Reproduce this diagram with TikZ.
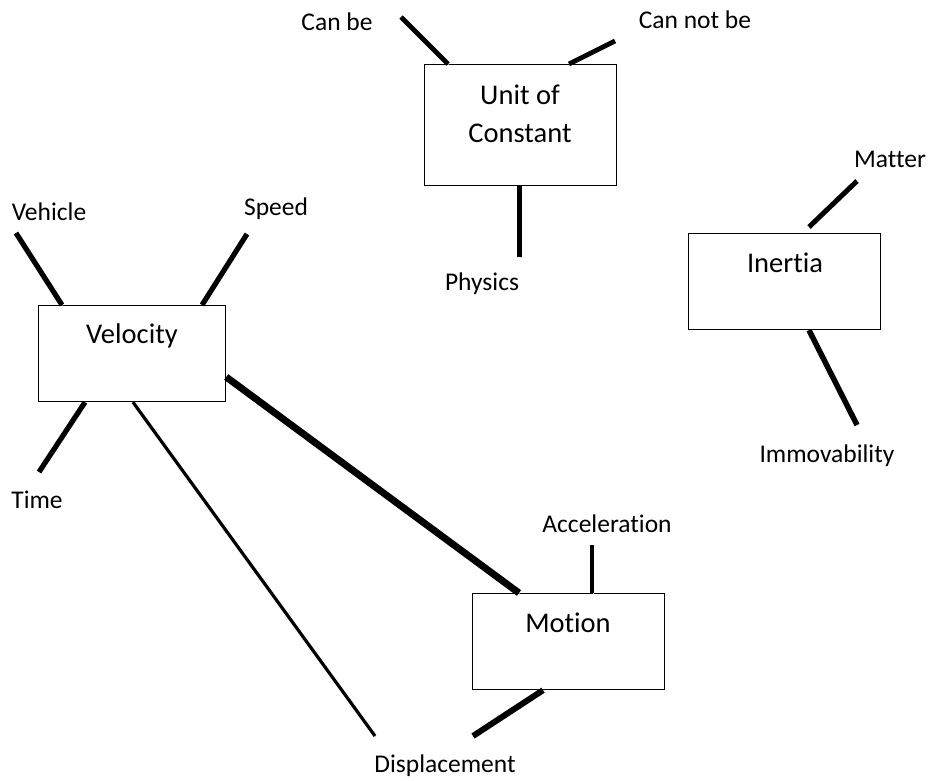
\documentclass[tikz,border=0pt]{standalone}
\usepackage{fontspec}
\setmainfont{Carlito}[Ligatures=NoCommon]
\usetikzlibrary{calc}
\tikzset{
  box/.style={draw, line width=1.2pt, inner sep=0pt, anchor=north west},
  boxtext/.style={inner sep=0pt, anchor=base, font=\fontsize{28.5}{38}\selectfont},
  lbl/.style={inner sep=0pt, anchor=base, font=\fontsize{25.5}{30}\selectfont},
  shade/.style={preaction={draw=black!22, transform canvas={shift={(1.3pt,-1.3pt)}}}},
  link/.style={line width=#1, shade},
}
\begin{document}
\begin{tikzpicture}[x=1pt,y=-1pt]
\useasboundingbox[fill=white] (0,0) rectangle (934,780);
% boxes
\node[box, minimum width=192pt, minimum height=121pt] (unit) at (424,64) {};
\node[box, minimum width=187pt, minimum height=96pt] (vel) at (38,305) {};
\node[box, minimum width=192pt, minimum height=96pt] (mot) at (472,593) {};
\node[box, minimum width=192pt, minimum height=96pt] (ine) at (688,233) {};
% box texts
\node[boxtext] (unitA) at (520,104) {Unit of};
\node[boxtext] (unitB) at (520,142) {Constant};
\node[boxtext] (velT) at (132,343) {Velocity};
\node[boxtext] (motT) at (568,632) {Motion};
\node[boxtext] (ineT) at (785,272) {Inertia};
% labels
\node[lbl] (canbe) at (337,30) {Can be};
\node[lbl] (cannot) at (695,28) {Can not be};
\node[lbl] (phys) at (482,290) {Physics};
\node[lbl] (vehicle) at (49,220) {Vehicle};
\node[lbl] (speed) at (276,215) {Speed};
\node[lbl] (time) at (37,508) {Time};
\node[lbl] (matter) at (890,167) {Matter};
\node[lbl] (immov) at (827,462) {Immovability};
\node[lbl] (accel) at (607,532) {Acceleration};
\node[lbl] (disp) at (445,772) {Displacement};
% free ends of connectors
\coordinate (cCanbe) at (401,17);
\coordinate (cCannot) at (615,41);
\coordinate (cPhys) at (519,257);
\coordinate (cVehicle) at (16,233);
\coordinate (cSpeed) at (247,234);
\coordinate (cTime) at (39,472);
\coordinate (cMatter) at (857,181);
\coordinate (cImmov) at (857,425);
\coordinate (cAccel) at (592,545);
\coordinate (cDispA) at (375,736);
\coordinate (cDispB) at (473,736);
% box-side ends
\coordinate (uCanbe) at ($(unit.north west)+(24,0)$);
\coordinate (uCannot) at ($(unit.north west)+(145,0)$);
\coordinate (uPhys) at ($(unit.south west)+(95,0)$);
\coordinate (vVehicle) at ($(vel.north west)+(24,0)$);
\coordinate (vSpeed) at ($(vel.north west)+(164,0)$);
\coordinate (vTime) at ($(vel.south west)+(47,0)$);
\coordinate (vDisp) at ($(vel.south west)+(95,0)$);
\coordinate (vMot) at ($(vel.north east)+(0,72)$);
\coordinate (mVel) at ($(mot.north west)+(47,0)$);
\coordinate (mAccel) at ($(mot.north west)+(120,0)$);
\coordinate (mDisp) at ($(mot.south west)+(71,0)$);
\coordinate (iMatter) at ($(ine.north west)+(121,-6)$);
\coordinate (iImmov) at ($(ine.south west)+(121,0)$);
% connectors
\draw[link=4.8pt] (cCanbe) -- (uCanbe);
\draw[link=4.8pt] (cCannot) -- (uCannot);
\draw[link=5pt] (uPhys) -- (cPhys);
\draw[link=5.2pt] (cVehicle) -- (vVehicle);
\draw[link=5.2pt] (cSpeed) -- (vSpeed);
\draw[link=5.2pt] (vTime) -- (cTime);
\draw[link=3.2pt] (vDisp) -- (cDispA);
\draw[link=7pt] (vMot) -- (mVel);
\draw[link=4.5pt] (cAccel) -- (mAccel);
\draw[link=6pt] (mDisp) -- (cDispB);
\draw[link=5pt] (cMatter) -- (iMatter);
\draw[link=5.5pt] (iImmov) -- (cImmov);
\end{tikzpicture}
\end{document}
